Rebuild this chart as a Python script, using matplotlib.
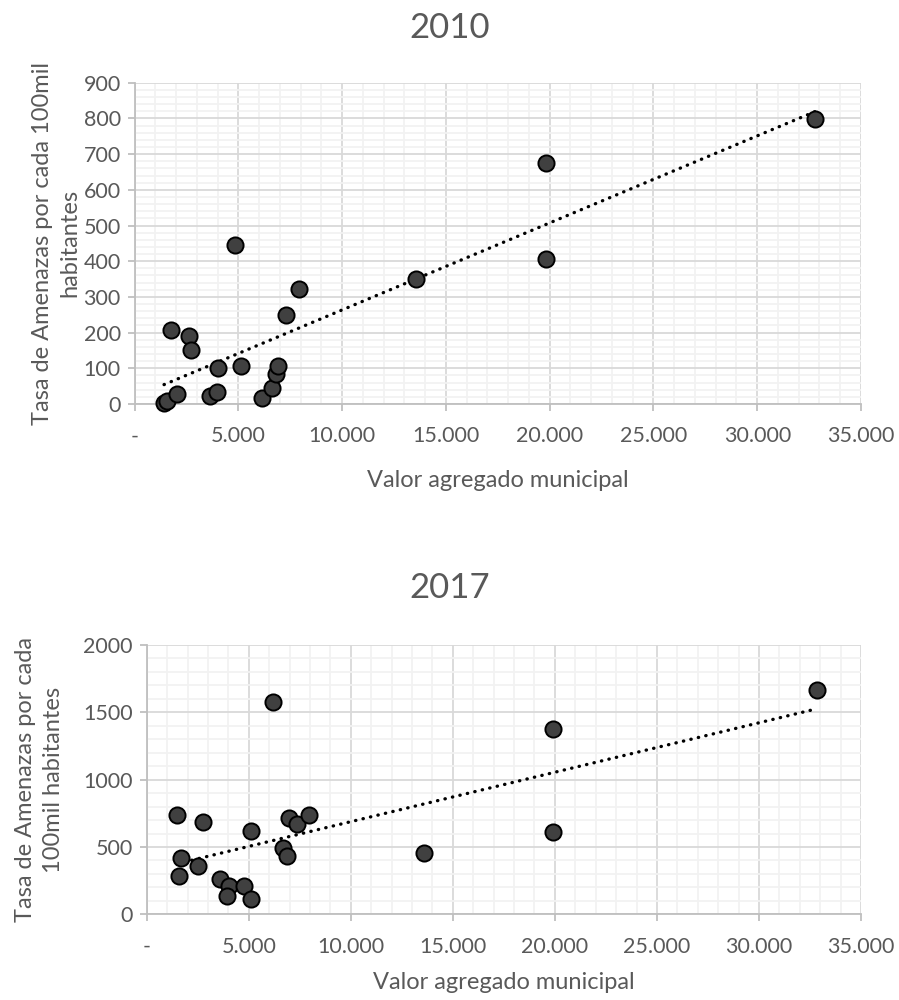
import numpy as np
import matplotlib
matplotlib.use("Agg")
import matplotlib.pyplot as plt
from matplotlib.ticker import MultipleLocator, FuncFormatter

plt.rcParams['font.family'] = ['Lato', 'DejaVu Sans']

# 2010 data
x_2010 = [1415, 1537, 2020, 1731, 2596, 2692, 3620, 3942, 4038, 4822, 5111,
          6154, 6635, 6827, 6923, 7308, 7900, 13558, 19809, 19809, 32791]
y_2010 = [4, 9, 28, 206, 190, 150, 22, 33, 100, 446, 106,
          16, 44, 84, 106, 250, 322, 351, 675, 407, 798]

# 2017 data
x_2017 = [1471, 1667, 1569, 2530, 2745, 3593, 4034, 3922, 4784, 5113, 5098,
          6176, 6667, 6863, 6976, 7353, 7941, 13608, 19917, 19917, 32843]
y_2017 = [735, 421, 287, 359, 688, 260, 213, 138, 213, 111, 617,
          1580, 495, 435, 718, 673, 735, 453, 1374, 614, 1666]

text_col = '#595959'


def thousands(v, pos):
    if v == 0:
        return '-'
    return '{:,.0f}'.format(v).replace(',', '.')


def scatter_panel(ax, xs, ys, ylabel, ymax, ymajor, xlabelpad, ylabelpad, lsp):
    xs = np.array(xs, dtype=float)
    ys = np.array(ys, dtype=float)
    ax.set_xlim(0, 35000)
    ax.set_ylim(0, ymax)
    ax.xaxis.set_major_locator(MultipleLocator(5000))
    ax.xaxis.set_minor_locator(MultipleLocator(1000))
    ax.yaxis.set_major_locator(MultipleLocator(ymajor))
    ax.yaxis.set_minor_locator(MultipleLocator(ymajor / 5))
    ax.xaxis.set_major_formatter(FuncFormatter(thousands))
    ax.grid(True, which='minor', color='#f2f2f2', lw=1.3)
    ax.grid(True, which='major', color='#d9d9d9', lw=1.3)
    ax.set_axisbelow(True)
    for s in ['top', 'right']:
        ax.spines[s].set_visible(False)
    for s in ['left', 'bottom']:
        ax.spines[s].set_color('#bfbfbf')
        ax.spines[s].set_linewidth(1.3)
    ax.tick_params(which='major', direction='out', length=5, color='#bfbfbf',
                   width=1.3, labelcolor=text_col, labelsize=15.5, pad=5)
    ax.tick_params(which='minor', length=0)
    ax.tick_params(axis='x', pad=11)

    # linear trend line over the data range
    k, b = np.polyfit(xs, ys, 1)
    xl = np.array([xs.min(), xs.max()])
    ax.plot(xl, k * xl + b, color='black', lw=2.4, linestyle=(0, (0.1, 2.2)),
            dash_capstyle='round', zorder=3)

    ax.scatter(xs, ys, s=135, color='#404040', edgecolor='black',
               linewidth=1.4, zorder=4, clip_on=False)

    ax.set_xlabel('Valor agregado municipal', fontsize=17, color=text_col,
                  labelpad=xlabelpad)
    ax.set_ylabel(ylabel, fontsize=17, color=text_col, labelpad=ylabelpad,
                  linespacing=lsp)


fig = plt.figure(figsize=(8.99, 10), dpi=100)
ax1 = fig.add_axes([134.7 / 899, 1 - 404 / 1000, (861 - 134.7) / 899, (404 - 82.7) / 1000])
ax2 = fig.add_axes([146.7 / 899, 1 - 914.3 / 1000, (861 - 146.7) / 899, (914.3 - 645) / 1000])

scatter_panel(ax1, x_2010, y_2010,
              'Tasa de Amenazas por cada 100mil\nhabitantes', 900, 100, 17, 2, 1.4)
scatter_panel(ax2, x_2017, y_2017,
              'Tasa de Amenazas por cada\n100mil habitantes', 2000, 500, 11, 14, 1.4)

fig.text(0.5, 1 - 28 / 1000, '2010', ha='center', va='center',
         fontsize=25, color=text_col)
fig.text(0.5, 1 - 588 / 1000, '2017', ha='center', va='center',
         fontsize=25, color=text_col)

fig.savefig('out.png', dpi=100)
